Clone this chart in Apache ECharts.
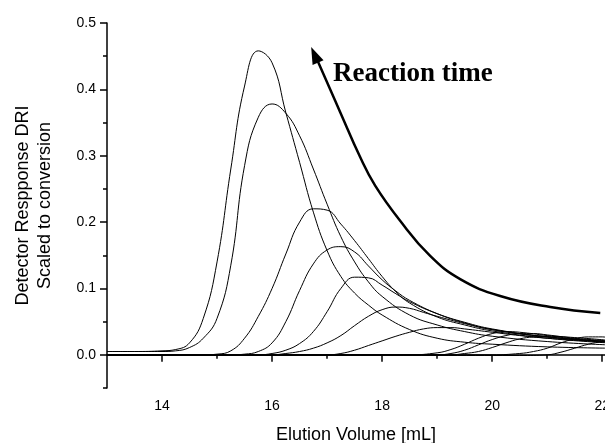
<!DOCTYPE html>
<html>
<head>
<meta charset="utf-8">
<script src="https://cdn.jsdelivr.net/npm/echarts@6/dist/echarts.min.js"></script>
<style>
html,body{margin:0;padding:0;background:#fff;}
#chart{width:605px;height:443px;}
</style>
</head>
<body>
<div id="chart"></div>
<script>
// Tick values
const xMajorTicks = [14, 16, 18, 20, 22];
const xMinorTicks = [15, 17, 19, 21];
const yMajorTicks = [0, 0.1, 0.2, 0.3, 0.4, 0.5];
const yMinorTicks = [-0.05, 0.05, 0.15, 0.25, 0.35, 0.45];

// GPC traces [elution volume mL, scaled DRI response]
const curve1 = [[13,0.005],[13.5,0.005],[14,0.006],[14.25,0.008],[14.5,0.018],[14.75,0.055],[15,0.14],[15.25,0.28],[15.5,0.405],[15.75,0.458],[16,0.44],[16.25,0.365],[16.5,0.29],[16.75,0.215],[17,0.157],[17.25,0.118],[17.5,0.093],[17.75,0.075],[18,0.06],[18.5,0.038],[19,0.025],[19.5,0.019],[20,0.016],[21,0.012],[22.1,0.01]];
const curve2 = [[13,0.005],[13.5,0.005],[14,0.005],[14.25,0.006],[14.5,0.011],[14.75,0.025],[15,0.055],[15.25,0.135],[15.5,0.285],[15.75,0.358],[16,0.378],[16.25,0.364],[16.5,0.33],[16.75,0.28],[17,0.227],[17.25,0.178],[17.5,0.14],[17.75,0.11],[18,0.088],[18.5,0.06],[19,0.045],[19.5,0.035],[20,0.028],[21,0.02],[22.1,0.015]];
const curve3 = [[13,0],[14.75,0],[15,0.001],[15.25,0.006],[15.5,0.025],[15.75,0.058],[16,0.1],[16.25,0.152],[16.5,0.2],[16.75,0.22],[17,0.218],[17.25,0.197],[17.5,0.172],[17.75,0.145],[18,0.118],[18.25,0.095],[18.5,0.078],[19,0.057],[19.5,0.045],[20,0.036],[21,0.025],[22.1,0.018]];
const curve4 = [[13,0],[15.25,0],[15.5,0.001],[15.75,0.005],[16,0.018],[16.25,0.05],[16.5,0.097],[16.75,0.137],[17,0.158],[17.25,0.163],[17.5,0.155],[17.75,0.134],[18,0.113],[18.25,0.096],[18.5,0.082],[19,0.062],[19.5,0.048],[20,0.038],[21,0.027],[22.1,0.019]];
const curve5 = [[13,0],[15.75,0],[16,0.002],[16.25,0.007],[16.5,0.017],[16.75,0.035],[17,0.065],[17.25,0.1],[17.5,0.117],[17.75,0.116],[18,0.105],[18.25,0.092],[18.5,0.08],[19,0.062],[19.5,0.049],[20,0.039],[21,0.027],[22.1,0.02]];
const curve6 = [[13,0],[16,0],[16.25,0.002],[16.5,0.005],[16.75,0.01],[17,0.018],[17.25,0.029],[17.5,0.044],[17.75,0.058],[18,0.068],[18.25,0.072],[18.5,0.07],[18.75,0.064],[19,0.058],[19.5,0.047],[20,0.038],[21,0.027],[22.1,0.02]];
const curve7 = [[13,0],[17,0],[17.25,0.002],[17.5,0.007],[17.75,0.014],[18,0.021],[18.25,0.028],[18.5,0.034],[18.75,0.039],[19,0.041],[19.25,0.041],[19.5,0.039],[20,0.034],[20.5,0.029],[21,0.025],[22.1,0.019]];
const curve8 = [[13,0],[18.5,0],[19,0.003],[19.25,0.008],[19.5,0.016],[19.75,0.025],[20,0.032],[20.25,0.035],[20.5,0.034],[21,0.029],[21.5,0.024],[22.1,0.02]];
const curve9 = [[13,0],[19,0],[19.25,0.002],[19.5,0.007],[19.75,0.015],[20,0.023],[20.25,0.029],[20.5,0.032],[20.75,0.032],[21,0.03],[21.5,0.025],[22.1,0.021]];
const curve10 = [[13,0],[19.25,0],[19.5,0.002],[19.75,0.005],[20,0.011],[20.25,0.018],[20.5,0.024],[20.75,0.027],[21,0.028],[21.5,0.026],[22.1,0.022]];
const curve11 = [[13,0],[20,0],[20.5,0.002],[20.75,0.005],[21,0.01],[21.25,0.018],[21.5,0.024],[21.75,0.027],[22,0.027],[22.1,0.026]];
const curve12 = [[13,0],[20.5,-0.001],[21,0],[21.25,0.004],[21.5,0.01],[21.75,0.016],[22,0.02],[22.1,0.021]];
const traces = [curve1, curve2, curve3, curve4, curve5, curve6, curve7, curve8, curve9, curve10, curve11, curve12];

// "Reaction time" arrow path and its head
const arrowPath = [[16.827,0.443],[17.236,0.366],[17.6,0.298],[17.873,0.255],[18.327,0.202],[18.873,0.149],[19.418,0.114],[20.145,0.0886],[21.055,0.072],[21.964,0.0629]];
const arrowHead = [[16.773,0.452]];
const annotationText = 'Reaction time';

const chart = echarts.init(document.getElementById('chart'), null, {renderer: 'canvas'});

const axisFont = {fontFamily: 'Liberation Sans, Arial, sans-serif', fontSize: 14, color: '#000'};
const xMin = 13, xMax = 22.05, yMin = -0.05, yMax = 0.5;

const series = traces.map(d => ({
  type: 'line', data: d, xAxisIndex: 0, yAxisIndex: 0,
  showSymbol: false, symbol: 'none', smooth: 0.45,
  lineStyle: {color: '#000', width: 1}, silent: true
}));
series.push({
  type: 'line', data: arrowPath, xAxisIndex: 0, yAxisIndex: 0,
  showSymbol: false, symbol: 'none', smooth: 0.45,
  lineStyle: {color: '#000', width: 2.5}, silent: true
});
series.push({
  type: 'scatter', data: arrowHead, xAxisIndex: 0, yAxisIndex: 0,
  symbol: 'triangle', symbolSize: [12, 17], symbolRotate: 24,
  itemStyle: {color: '#000', opacity: 1}, silent: true
});

chart.setOption({
  animation: false,
  backgroundColor: '#fff',
  grid: {left: 107, right: 0, top: 23, bottom: 55, containLabel: false, outerBoundsMode: 'none'},
  xAxis: [
    {
      type: 'value', min: xMin, max: xMax, position: 'bottom',
      name: 'Elution Volume [mL]', nameLocation: 'middle', nameGap: 38,
      nameTextStyle: {fontFamily: 'Liberation Sans, Arial, sans-serif', fontSize: 18, color: '#000'},
      axisLine: {show: true, lineStyle: {color: '#000', width: 1.5}},
      axisTick: {show: true, length: 7, customValues: xMajorTicks, lineStyle: {color: '#000', width: 1.5}},
      axisLabel: Object.assign({margin: 11, customValues: xMajorTicks, showMinLabel: true, showMaxLabel: true, hideOverlap: false}, axisFont),
      splitLine: {show: false}
    },
    {
      type: 'value', min: xMin, max: xMax, position: 'bottom',
      axisLine: {show: false},
      axisTick: {show: true, length: 4, customValues: xMinorTicks, lineStyle: {color: '#000', width: 1.5}},
      axisLabel: {show: false, customValues: xMinorTicks},
      splitLine: {show: false}
    }
  ],
  yAxis: [
    {
      type: 'value', min: yMin, max: yMax, position: 'left',
      name: 'Detector Respponse DRI\nScaled to conversion', nameLocation: 'middle', nameGap: 51,
      nameTextStyle: {fontFamily: 'Liberation Sans, Arial, sans-serif', fontSize: 18, color: '#000', lineHeight: 22, align: 'center'},
      axisLine: {show: true, lineStyle: {color: '#000', width: 1.5}},
      axisTick: {show: true, length: 7, customValues: yMajorTicks, lineStyle: {color: '#000', width: 1.5}},
      axisLabel: Object.assign({margin: 11, customValues: yMajorTicks, formatter: v => v.toFixed(1)}, axisFont),
      splitLine: {show: false}
    },
    {
      type: 'value', min: yMin, max: yMax, position: 'left',
      axisLine: {show: false},
      axisTick: {show: true, length: 4, customValues: yMinorTicks, lineStyle: {color: '#000', width: 1.5}},
      axisLabel: {show: false, customValues: yMinorTicks},
      splitLine: {show: false}
    }
  ],
  graphic: [{
    type: 'text', left: 333, top: 61,
    style: {text: annotationText, font: 'bold 27px "Liberation Serif", "Times New Roman", serif', fill: '#000'}
  }],
  series: series
});
</script>
</body>
</html>
